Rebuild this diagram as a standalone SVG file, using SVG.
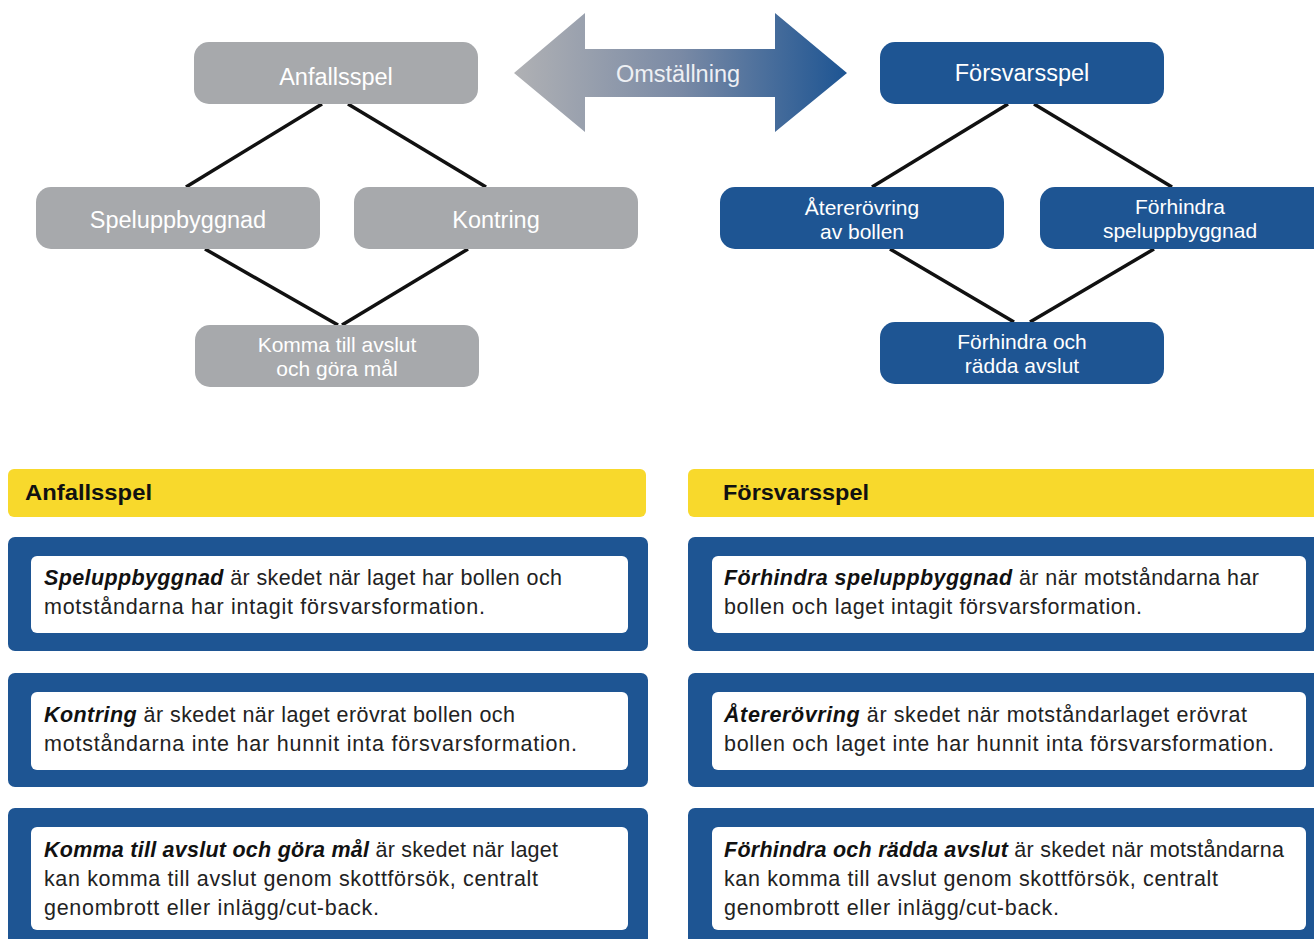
<svg xmlns="http://www.w3.org/2000/svg" width="1314" height="939" viewBox="0 0 1314 939">
<defs>
<linearGradient id="arrowGrad" x1="514" y1="0" x2="846" y2="0" gradientUnits="userSpaceOnUse">
<stop offset="0" stop-color="#b0b1b4"/>
<stop offset="0.5" stop-color="#7a8aa5"/>
<stop offset="1" stop-color="#1e5593"/>
</linearGradient>
<style>
.gray{fill:#a7a9ac}
.blue{fill:#1e5593}
.nt{font-family:"Liberation Sans",Arial,sans-serif;font-size:23.5px;fill:#ffffff;text-anchor:middle}
.nt2{font-family:"Liberation Sans",Arial,sans-serif;font-size:21px;fill:#ffffff;text-anchor:middle}
.conn{stroke:#111;stroke-width:3.5;fill:none}
.yel{fill:#f8d92c}
.hd{font-family:"Liberation Sans",Arial,sans-serif;font-size:22px;font-weight:bold;fill:#111}
.card{fill:#1e5593}
.inner{fill:#ffffff}
.bt{font-family:"Liberation Sans",Arial,sans-serif;font-size:21.5px;fill:#222}
.bt tspan.b{font-weight:bold;font-style:italic;fill:#111}
</style>
</defs>
<rect width="1314" height="939" fill="#ffffff"/>

<g id="connectors">
<line class="conn" x1="322" y1="104" x2="186" y2="187"/>
<line class="conn" x1="348" y1="104" x2="486" y2="187"/>
<line class="conn" x1="205" y1="249" x2="338" y2="325"/>
<line class="conn" x1="468" y1="249" x2="342" y2="325"/>
<line class="conn" x1="1008" y1="104" x2="872" y2="187"/>
<line class="conn" x1="1034" y1="104" x2="1172" y2="187"/>
<line class="conn" x1="890" y1="249" x2="1014" y2="322"/>
<line class="conn" x1="1154" y1="249" x2="1030" y2="322"/>
</g>

<g id="arrow-omstallning">
<polygon points="514,73 585,13 585,49 775,49 775,13 847,73 775,132 775,97 585,97 585,132" fill="url(#arrowGrad)"/>
<text x="678" y="82" class="nt" style="fill:#eef0f4">Omställning</text>
</g>

<g id="node-anfallsspel">
<rect class="gray" x="194" y="42" width="284" height="62" rx="15"/>
<text class="nt" x="336" y="85">Anfallsspel</text>
</g>
<g id="node-speluppbyggnad">
<rect class="gray" x="36" y="187" width="284" height="62" rx="15"/>
<text class="nt" x="178" y="228">Speluppbyggnad</text>
</g>
<g id="node-kontring">
<rect class="gray" x="354" y="187" width="284" height="62" rx="15"/>
<text class="nt" x="496" y="228">Kontring</text>
</g>
<g id="node-komma">
<rect class="gray" x="195" y="325" width="284" height="62" rx="15"/>
<text class="nt2" x="337" y="352">Komma till avslut</text>
<text class="nt2" x="337" y="376">och göra mål</text>
</g>

<g id="node-forsvarsspel">
<rect class="blue" x="880" y="42" width="284" height="62" rx="15"/>
<text class="nt" x="1022" y="81">Försvarsspel</text>
</g>
<g id="node-atererovring">
<rect class="blue" x="720" y="187" width="284" height="62" rx="15"/>
<text class="nt2" x="862" y="215">Återerövring</text>
<text class="nt2" x="862" y="239">av bollen</text>
</g>
<g id="node-forhindra-spel">
<rect class="blue" x="1040" y="187" width="290" height="62" rx="15"/>
<text class="nt2" x="1180" y="214">Förhindra</text>
<text class="nt2" x="1180" y="238">speluppbyggnad</text>
</g>
<g id="node-forhindra-avslut">
<rect class="blue" x="880" y="322" width="284" height="62" rx="15"/>
<text class="nt2" x="1022" y="349">Förhindra och</text>
<text class="nt2" x="1022" y="373">rädda avslut</text>
</g>

<g id="header-anfall">
<rect class="yel" x="8" y="469" width="638" height="48" rx="6"/>
<text class="hd" x="25" y="500" textLength="127" lengthAdjust="spacingAndGlyphs">Anfallsspel</text>
</g>
<g id="header-forsvar">
<rect class="yel" x="688" y="469" width="640" height="48" rx="6"/>
<text class="hd" x="723" y="500" textLength="146" lengthAdjust="spacingAndGlyphs">Försvarsspel</text>
</g>

<g id="card-l1">
<rect class="card" x="8" y="537" width="640" height="114" rx="7"/>
<rect class="inner" x="31" y="556" width="597" height="77" rx="6"/>
<text class="bt" x="44" y="585" textLength="518"><tspan class="b">Speluppbyggnad</tspan> är skedet när laget har bollen och</text>
<text class="bt" x="44" y="614" textLength="441">motståndarna har intagit försvarsformation.</text>
</g>
<g id="card-l2">
<rect class="card" x="8" y="673" width="640" height="114" rx="7"/>
<rect class="inner" x="31" y="692" width="597" height="78" rx="6"/>
<text class="bt" x="44" y="722" textLength="471"><tspan class="b">Kontring</tspan> är skedet när laget erövrat bollen och</text>
<text class="bt" x="44" y="751" textLength="533">motståndarna inte  har hunnit inta försvarsformation.</text>
</g>
<g id="card-l3">
<rect class="card" x="8" y="808" width="640" height="150" rx="7"/>
<rect class="inner" x="31" y="827" width="597" height="103" rx="6"/>
<text class="bt" x="44" y="857" textLength="514"><tspan class="b">Komma till avslut och göra mål</tspan>  är skedet när laget</text>
<text class="bt" x="44" y="886" textLength="494">kan komma till avslut genom skottförsök, centralt</text>
<text class="bt" x="44" y="915" textLength="335">genombrott eller inlägg/cut-back.</text>
</g>

<g id="card-r1">
<rect class="card" x="688" y="537" width="640" height="114" rx="7"/>
<rect class="inner" x="712" y="556" width="594" height="77" rx="6"/>
<text class="bt" x="724" y="585" textLength="535"><tspan class="b">Förhindra speluppbyggnad</tspan> är när motståndarna har</text>
<text class="bt" x="724" y="614" textLength="418">bollen och laget intagit försvarsformation.</text>
</g>
<g id="card-r2">
<rect class="card" x="688" y="673" width="640" height="114" rx="7"/>
<rect class="inner" x="712" y="692" width="594" height="78" rx="6"/>
<text class="bt" x="724" y="722" textLength="523"><tspan class="b">Återerövring</tspan> är skedet när motståndarlaget erövrat</text>
<text class="bt" x="724" y="751" textLength="550">bollen och laget inte  har hunnit inta försvarsformation.</text>
</g>
<g id="card-r3">
<rect class="card" x="688" y="808" width="640" height="150" rx="7"/>
<rect class="inner" x="712" y="827" width="594" height="103" rx="6"/>
<text class="bt" x="724" y="857" textLength="560"><tspan class="b">Förhindra och rädda avslut</tspan>  är skedet när motståndarna</text>
<text class="bt" x="724" y="886" textLength="494">kan komma till avslut genom skottförsök, centralt</text>
<text class="bt" x="724" y="915" textLength="335">genombrott eller inlägg/cut-back.</text>
</g>
</svg>
